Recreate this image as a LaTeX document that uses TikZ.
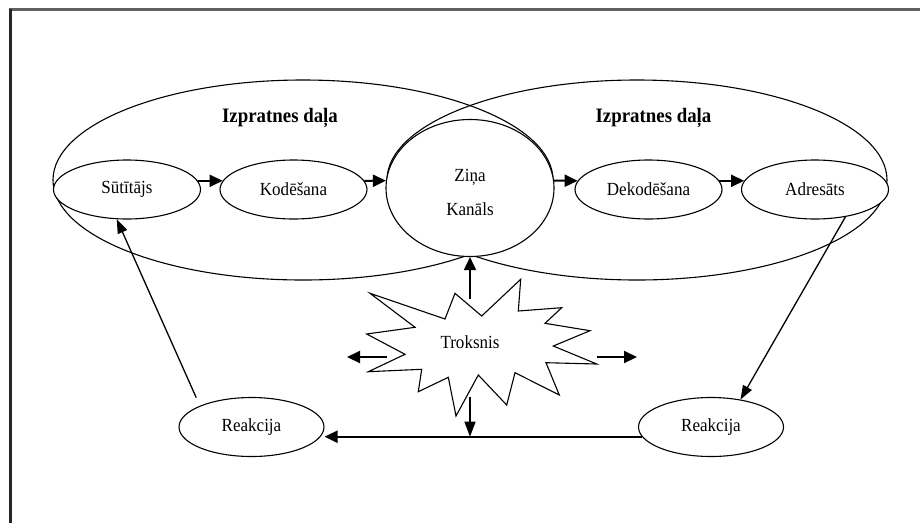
\documentclass[tikz,border=0pt]{standalone}
\usepackage{fontspec}
\setmainfont{Liberation Serif}[FakeStretch=0.92]
\usetikzlibrary{arrows.meta,shapes.geometric}
\tikzset{
  region/.style={ellipse, draw, line width=1.1pt, minimum width=500pt, minimum height=200pt, inner sep=0pt},
  stage/.style={ellipse, draw, fill=white, line width=1.1pt, minimum width=147pt, minimum height=59pt, inner sep=0pt, font=\fontsize{18.5}{22}\selectfont},
  label/.style={font=\bfseries\fontsize{20.5}{24}\selectfont},
  arr/.style={-{Triangle[length=13pt,width=12pt]}, line width=2pt},
  arrthin/.style={-{Triangle[length=14pt,width=10pt]}, line width=1.3pt}
}
\begin{document}
\begin{tikzpicture}[x=1pt,y=-1pt]
\useasboundingbox (0,0) rectangle (920,523);
\draw[line width=3.3pt, black!62] (9,9.8) -- (920,9.8);
\draw[line width=3pt, black!85] (10.8,8.5) -- (10.8,523);
\node[region] (izp0) at (303,180){};
\node[region] (izp1) at (637,180){};
\node[label] (lab0) at (280,118){Izpratnes daļa};
\node[label] (lab1) at (653.5,118){Izpratnes daļa};
\node[stage] (sut) at (127,189.5){Sūtītājs};
\node[stage] (kod) at (293.5,189.5){Kodēšana};
\node[ellipse, draw, fill=white, line width=1.1pt, minimum width=168pt, minimum height=137pt, inner sep=0pt, align=center, font=\fontsize{18.5}{34}\selectfont] (zin) at (470,188){\rule{0pt}{22pt}Ziņa\\Kanāls};
\node[stage] (dek) at (648.5,189.5){Dekodēšana};
\node[stage] (adr) at (815,189.5){Adresāts};
\node[stage, minimum width=145pt] (reak0) at (251.5,427){Reakcija};
\node[stage, minimum width=145pt] (reak1) at (711,427){Reakcija};
\draw[arr](sut.7) -- (kod.173);
\draw[arr](kod.7) -- (zin.175);
\draw[arr](zin.5) -- (dek.173);
\draw[arr](dek.7) -- (adr.173);
\draw[arrthin](adr.-42) -- (reak1.43);
\draw[arrthin, shorten <=9pt](reak0.north west) -- (sut.-109);
\draw[arr, line width=2.4pt](reak1.188) -- (reak1.188 -| reak0.east);
\draw[line width=1.1pt, fill=white] (370,293.3) -- (445,319) -- (455,293.3) -- (481.7,316) -- (520.7,279.3) -- (518.3,311) -- (561.7,307.7) -- (545,323.3) -- (590,330.7) -- (553.3,346) -- (596.7,364) -- (546,362.7) -- (559.3,395) -- (515,372.7) -- (506.7,405) -- (478.3,375) -- (456,416) -- (448.3,377.3) -- (418.3,391.7) -- (421.7,369.3) -- (368.3,371.7) -- (405,354.3) -- (366.7,334) -- (415,327.3) -- cycle;
\node[font=\fontsize{18.5}{22}\selectfont] (troks) at (470,342){Troksnis};
\coordinate (tup) at (470,299);
\coordinate (tdown) at (470,397);
\coordinate (tleft) at (387,357);
\coordinate (tleftend) at (347,357);
\coordinate (tright) at (597,357);
\coordinate (trightend) at (637,357);
\draw[arr, line width=1.8pt](tup) -- (zin.south);
\draw[arr](tleft) -- (tleftend);
\draw[arr](tright) -- (trightend);
\draw[arrthin, -{Triangle[length=15pt,width=11pt]}](tdown) -- (tdown |- reak1.188);
\end{tikzpicture}
\end{document}
